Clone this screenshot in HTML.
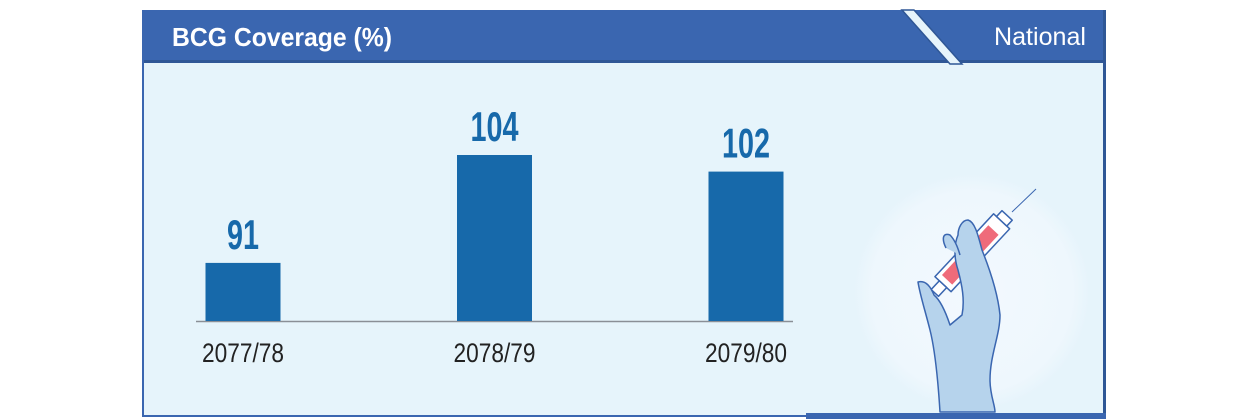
<!DOCTYPE html>
<html><head><meta charset="utf-8"><style>
body{margin:0;background:#fff;width:1248px;height:419px;overflow:hidden;font-family:"Liberation Sans",sans-serif}
svg{display:block}
</style></head><body>
<svg width="1248" height="419">
<defs><radialGradient id="glow" cx="0.5" cy="0.5" r="0.5"><stop offset="0" stop-color="#f3f9fe"/><stop offset="0.85" stop-color="#eef7fd"/><stop offset="1" stop-color="#e6f4fb"/></radialGradient></defs>
<rect x="142" y="10" width="964" height="407" fill="#e6f4fb"/>
<rect x="142" y="10" width="964" height="52" fill="#3a66b0"/>
<rect x="142" y="60" width="964" height="3" fill="#2f5796"/>
<polygon points="902,10 914,10 962,64 950,64" fill="#e6f4fb" stroke="#2f5796" stroke-width="1.5"/>
<text x="172" y="46" fill="#fff" font-size="26" font-weight="bold" textLength="220" lengthAdjust="spacingAndGlyphs">BCG Coverage (%)</text>
<text x="994" y="45" fill="#fff" font-size="25" textLength="92" lengthAdjust="spacingAndGlyphs">National</text>
<rect x="142" y="10" width="2" height="407" fill="#3a66b0"/>
<rect x="1103" y="10" width="3" height="407" fill="#2f5796"/>
<rect x="142" y="415" width="964" height="2" fill="#3a66b0"/>
<rect x="806" y="413" width="300" height="6" fill="#3a66b0"/>
<circle cx="972" cy="292" r="118" fill="url(#glow)"/>
<g id="chart"></g>
<g stroke="#3a66b0" stroke-width="1.5" stroke-linejoin="round">
 <line x1="1012" y1="212" x2="1036" y2="189" stroke-width="1"/>
 <g transform="translate(973,252) rotate(-47)">
  <rect x="-44" y="-11" width="86" height="22" fill="#fff"/>
  <rect x="-38" y="-7" width="68" height="14" fill="#ef6b7a" stroke="none"/>
  <rect x="42" y="-7" width="8" height="14" fill="#fff"/>
  <rect x="-56" y="-5" width="12" height="10" fill="#fff"/>
 </g>
 <path d="M940 412 C938 380 935 350 930 330 C925 310 920 295 918 282 C925 280 930 285 934 295 C940 300 945 310 950 325 L962 315 C965 300 962 285 958 270 C953 255 955 242 958 235 C958 228 962 220 968 220 C975 222 978 235 982 250 C990 270 998 295 1000 315 C1000 335 990 355 990 380 C990 395 995 405 995 412 Z" fill="#b6d3ec"/>
 <path d="M946 248 C942 240 942 232 950 235 C955 240 958 248 960 255" fill="#b6d3ec"/>
</g>
</svg>
<script>
const categories=["2077/78","2078/79","2079/80"];
const values=[91,104,102];
const g=document.getElementById('chart');
const NS='http://www.w3.org/2000/svg';
const base=321,yMin=84,pxPer=8.3;
function yScale(v){return base-(v-yMin)*pxPer;}
function xCenter(i){return 243+i*251.5;}
const ax=document.createElementNS(NS,'line');
ax.setAttribute('x1',196);ax.setAttribute('x2',793);ax.setAttribute('y1',base+0.5);ax.setAttribute('y2',base+0.5);
ax.setAttribute('stroke','#8a8f96');ax.setAttribute('stroke-width','1.5');


g.appendChild(ax);
values.forEach((v,i)=>{
 const r=document.createElementNS(NS,'rect');
 const y=yScale(v);
 r.setAttribute('x',xCenter(i)-37.5);r.setAttribute('width',75);r.setAttribute('y',y);r.setAttribute('height',base-y);
 r.setAttribute('fill','#1769aa');
 
 
 g.appendChild(r);
 const t=document.createElementNS(NS,'text');
 const s=String(v);
 t.setAttribute('x',xCenter(i)-s.length*8);t.setAttribute('y',y-14);
 t.setAttribute('textLength',s.length*16);t.setAttribute('lengthAdjust','spacingAndGlyphs');
 t.setAttribute('fill','#1769aa');t.setAttribute('font-size','42');t.setAttribute('font-weight','bold');
 t.textContent=s;
 
 
 g.appendChild(t);
 const c=document.createElementNS(NS,'text');
 c.setAttribute('x',xCenter(i)-41);c.setAttribute('y',362);
 c.setAttribute('textLength',82);c.setAttribute('lengthAdjust','spacingAndGlyphs');
 c.setAttribute('fill','#222');c.setAttribute('font-size','27');
 c.textContent=categories[i];
 
 
 g.appendChild(c);
});
</script>
</body></html>
